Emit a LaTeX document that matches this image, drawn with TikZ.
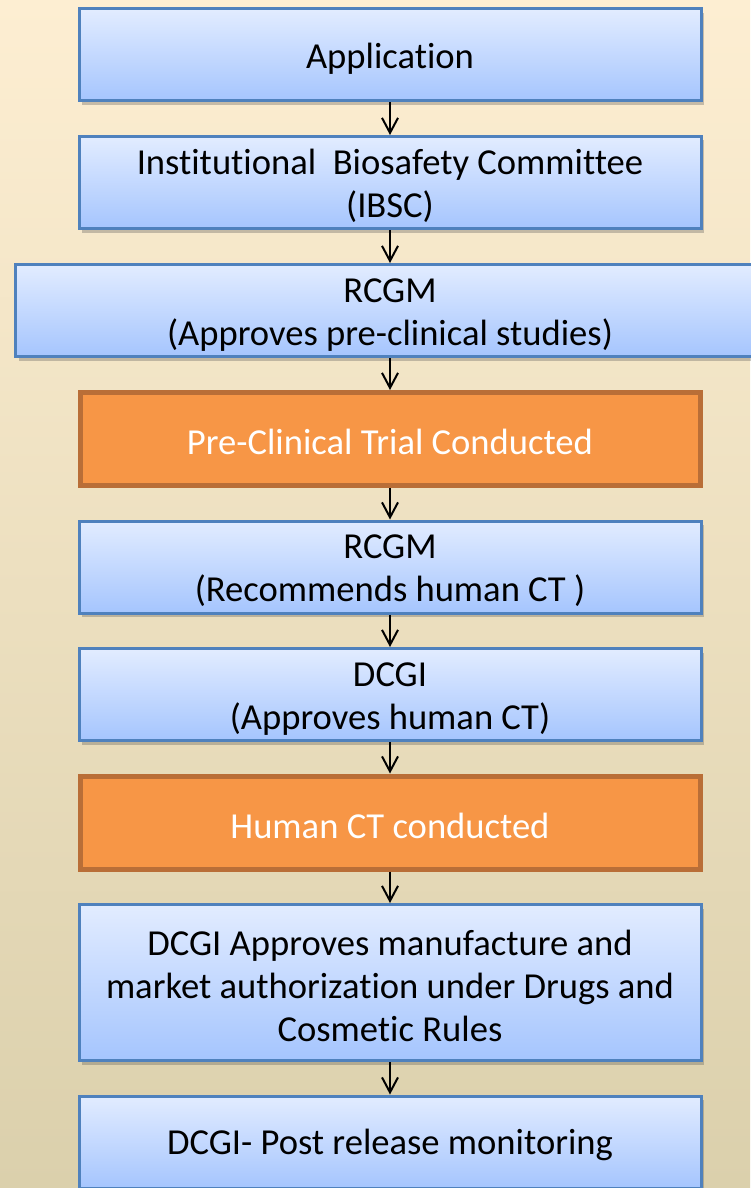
\documentclass[tikz,border=0pt]{standalone}
\usepackage{fontspec}
\setmainfont[Ligatures=NoCommon]{Carlito}
\usetikzlibrary{arrows.meta,shadows}

\definecolor{bgtop}{HTML}{FDEED2}
\definecolor{bgbottom}{HTML}{DBD0AC}
\definecolor{boxtop}{HTML}{E2ECFF}
\definecolor{boxbottom}{HTML}{A5C5FE}
\definecolor{boxedge}{HTML}{4F81BD}
\definecolor{trialfill}{HTML}{F79646}
\definecolor{trialedge}{HTML}{B96E37}

% pushes the first line a little lower in its box
\newcommand\lowfirst{\rule{0pt}{16pt}}

\begin{document}
\begin{tikzpicture}[x=0.5pt,y=-0.5pt,
  bluebox/.style={draw=boxedge, line width=1.5pt, top color=boxtop, bottom color=boxbottom,
    minimum width=311pt, minimum height=46pt, align=center, inner sep=0pt,
    font=\fontsize{18.3}{21.5}\selectfont,
    drop shadow={shadow xshift=1.5pt, shadow yshift=-2pt, opacity=.3, fill=black!70}},
  orangebox/.style={draw=trialedge, line width=2.5pt, fill=trialfill, text=white,
    minimum width=310pt, minimum height=46.5pt, align=center, inner sep=0pt,
    font=\fontsize{18.3}{21.5}\selectfont},
  flowarrow/.style={line width=1pt, -{Straight Barb[length=7.5pt,width=8pt]}}]

% background
\useasboundingbox (0,0) rectangle (750,1188);
\shade [top color=bgtop, bottom color=bgbottom] (0,0) rectangle (750,1188);

% steps
\node [bluebox] (app) at (390,55) {\lowfirst Application};
\node [bluebox] (ibsc) at (390,182.5) {\lowfirst Institutional\ \ Biosafety Committee\\(IBSC)};
\node [bluebox, minimum width=374.5pt] (rcgmpre) at (390,310.5) {\lowfirst RCGM\\(Approves pre-clinical studies)};
\node [orangebox] (precl) at (390,439) {\lowfirst Pre-Clinical Trial Conducted};
\node [bluebox] (rcgmhum) at (390,567) {\lowfirst RCGM\\(Recommends human CT )};
\node [bluebox] (dcgict) at (390,694.5) {\lowfirst DCGI\\(Approves human CT)};
\node [orangebox] (humct) at (390,822.5) {\lowfirst Human CT conducted};
\node [bluebox, minimum height=78pt] (market) at (390,982.5) {\lowfirst DCGI Approves manufacture and\\market authorization under Drugs and\\Cosmetic Rules};
\node [bluebox] (post) at (390,1142) {\lowfirst DCGI- Post release monitoring};

% arrows
\draw [flowarrow] (app) -- (ibsc);
\draw [flowarrow] (ibsc) -- (rcgmpre);
\draw [flowarrow] (rcgmpre) -- (precl);
\draw [flowarrow] (precl) -- (rcgmhum);
\draw [flowarrow] (rcgmhum) -- (dcgict);
\draw [flowarrow] (dcgict) -- (humct);
\draw [flowarrow] (humct) -- (market);
\draw [flowarrow] (market) -- (post);

\end{tikzpicture}
\end{document}
